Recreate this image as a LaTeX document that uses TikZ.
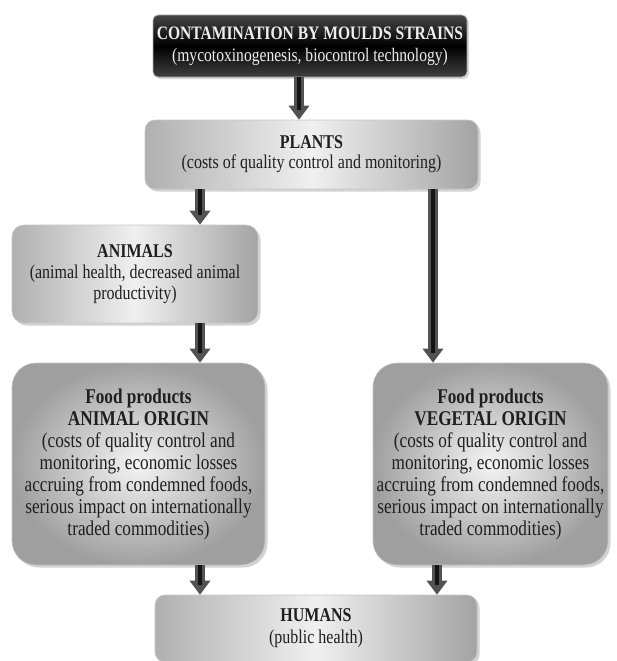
\documentclass[tikz,border=0pt]{standalone}
\usepackage{fontspec}
\setmainfont{Liberation Serif}[FakeStretch=0.82]
\usetikzlibrary{arrows.meta,shadows}
\begin{document}
\begin{tikzpicture}[x=1pt,y=-1pt,
  box/.style={rounded corners=10pt, draw=gray!45, line width=0.6pt, align=center,
    text=black!88, inner sep=0pt,
    font=\fontsize{19.5}{21}\selectfont,
    drop shadow={shadow xshift=2.5pt, shadow yshift=-2.5pt, opacity=0.35, fill=gray}},
  hshade/.style={left color=gray!62, right color=gray!72, middle color=gray!12},
  rshade/.style={shading=radial, inner color=gray!8, outer color=gray!75},
  darkbox/.style={rounded corners=5pt, draw=gray!60, line width=0.8pt, align=center,
    text=white!93!black, inner sep=0pt,
    top color=gray!55!black, bottom color=gray!50!black, middle color=black,
    font=\fontsize{19}{22}\selectfont,
    drop shadow={shadow xshift=2pt, shadow yshift=-2pt, opacity=0.3, fill=gray}},
  arr/.style={line width=10pt, draw=black!68, -{Triangle[width=20pt,length=14pt]},
    postaction={draw=black!92, line width=4pt, -, shorten >=10pt}}
]
\useasboundingbox (0,0) rectangle (617,661);

\node[darkbox, minimum width=314pt, minimum height=62pt] (top) at (310,46)
  {\textbf{CONTAMINATION BY MOULDS STRAINS}\\(mycotoxinogenesis, biocontrol technology)};

\node[box, hshade, minimum width=333pt, minimum height=69pt,
  font=\fontsize{19.5}{20}\selectfont] (plants) at (311.5,154.5)
  {\textbf{PLANTS}\\(costs of quality control and monitoring)};

\node[box, hshade, rounded corners=12pt, minimum width=246pt, minimum height=98pt] (animals) at (135,274)
  {\textbf{ANIMALS}\\(animal health, decreased animal\\productivity)};

\node[box, rshade, rounded corners=24pt, minimum width=253pt, minimum height=202pt,
  font=\fontsize{21}{22}\selectfont] (fooda) at (138.5,464)
  {\textbf{Food products}\\\textbf{ANIMAL ORIGIN}\\(costs of quality control and\\monitoring, economic losses\\accruing from condemned foods,\\serious impact on internationally\\traded commodities)};

\node[box, rshade, rounded corners=24pt, minimum width=235pt, minimum height=202pt,
  font=\fontsize{21}{22}\selectfont] (foodv) at (490.5,464)
  {\textbf{Food products}\\\textbf{VEGETAL ORIGIN}\\(costs of quality control and\\monitoring, economic losses\\accruing from condemned foods,\\serious impact on internationally\\traded commodities)};

\node[box, hshade, minimum width=322pt, minimum height=67pt,
  font=\fontsize{19.5}{22}\selectfont] (humans) at (316,628.5)
  {\textbf{HUMANS}\\(public health)};

\draw[arr] ([xshift=-11pt]top.south) -- ([xshift=-12.5pt]plants.north);
\draw[arr] ([xshift=-111.5pt]plants.south) -- ([xshift=65pt]animals.north);
\draw[arr] ([xshift=121.5pt]plants.south) -- ([xshift=-57.5pt]foodv.north);
\draw[arr] ([xshift=65pt]animals.south) -- ([xshift=61.5pt]fooda.north);
\draw[arr] ([xshift=61.5pt]fooda.south) -- ([xshift=-116pt]humans.north);
\draw[arr] ([xshift=-53.5pt]foodv.south) -- ([xshift=121pt]humans.north);
\end{tikzpicture}
\end{document}
